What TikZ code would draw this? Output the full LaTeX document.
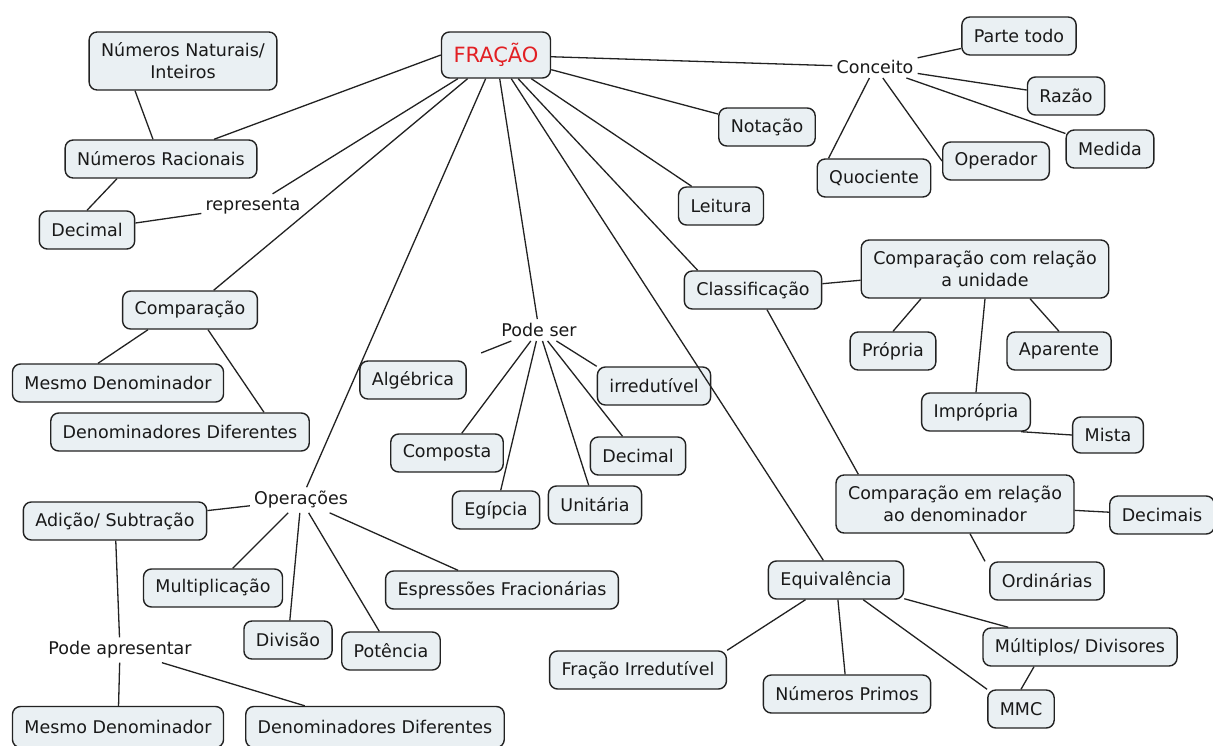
\documentclass[tikz,border=0pt]{standalone}
\usepackage{fontspec}
\setmainfont{DejaVu Sans}
\definecolor{caixafundo}{RGB}{234,240,243}
\definecolor{traco}{RGB}{34,34,34}
\definecolor{vermelho}{RGB}{226,32,36}
\tikzset{
  caixa/.style={draw=traco, line width=1.4pt, fill=caixafundo, rounded corners=8pt,
    inner xsep=12pt, inner ysep=5pt, minimum height=38pt, text=black!90, align=center},
  rotulo/.style={inner sep=4pt, text=black!90},
  liga/.style={draw=traco, line width=1.3pt}
}
\begin{document}
\begin{tikzpicture}[x=1pt, y=-1pt, font=\fontsize{17.5}{22}\selectfont]
    \path[use as bounding box, fill=white] (0,0) rectangle (1213,745);

    \node[caixa, text=vermelho, minimum height=46pt, font=\fontsize{21}{25}\selectfont] (fracao) at (496,55) {FRAÇÃO};

    \node[caixa, minimum height=58pt] (naturais) at (183,61) {Números Naturais/\\Inteiros};
    \node[caixa] (racionais) at (161,159) {Números Racionais};
    \node[caixa] (decimalA) at (87,230) {Decimal};
    \node[rotulo] (representa) at (253,206) {representa};

    \node[rotulo] (conceito) at (875,67) {Conceito};
    \node[caixa] (partetodo) at (1019,36) {Parte todo};
    \node[caixa] (razao) at (1066,96) {Razão};
    \node[caixa] (medida) at (1110,149) {Medida};
    \node[caixa] (operador) at (996,161) {Operador};
    \node[caixa] (quociente) at (874,178) {Quociente};
    \node[caixa] (notacao) at (767,127) {Notação};
    \node[caixa] (leitura) at (721,206) {Leitura};

    \node[caixa] (classificacao) at (753,290) {Classificação};
    \node[caixa, minimum height=58pt] (unidade) at (985,269) {Comparação com relação\\a unidade};
    \node[caixa] (propria) at (893,351) {Própria};
    \node[caixa] (aparente) at (1059,351) {Aparente};
    \node[caixa] (impropria) at (976,412) {Imprópria};
    \node[caixa, minimum height=36pt] (mista) at (1108,435) {Mista};
    \node[caixa, minimum height=58pt] (denominador) at (955,504) {Comparação em relação\\ao denominador};
    \node[caixa] (decimais) at (1162,515) {Decimais};
    \node[caixa] (ordinarias) at (1047,581) {Ordinárias};

    \node[caixa] (equivalencia) at (836,580) {Equivalência};
    \node[caixa] (multiplos) at (1080,647) {Múltiplos/ Divisores};
    \node[caixa] (mmc) at (1021,709) {MMC};
    \node[caixa] (primos) at (847,694) {Números Primos};
    \node[caixa] (fracaoirred) at (638,670) {Fração Irredutível};

    \node[caixa] (comparacao) at (190,310) {Comparação};
    \node[caixa] (mesmoA) at (118,383) {Mesmo Denominador};
    \node[caixa] (diferentesA) at (180,432) {Denominadores Diferentes};

    \node[rotulo] (podeser) at (539,330) {Pode ser};
    \node[caixa] (algebrica) at (413,380) {Algébrica};
    \node[caixa] (irredutivel) at (654,386) {irredutível};
    \node[caixa] (composta) at (447,453) {Composta};
    \node[caixa] (decimalB) at (638,456) {Decimal};
    \node[caixa] (egipcia) at (496,510) {Egípcia};
    \node[caixa] (unitaria) at (595,505) {Unitária};

    \node[rotulo] (operacoes) at (301,500) {Operações};
    \node[caixa] (adicao) at (115,521) {Adição/ Subtração};
    \node[caixa] (multiplicacao) at (213,588) {Multiplicação};
    \node[caixa] (divisao) at (288,640) {Divisão};
    \node[caixa] (potencia) at (391,651) {Potência};
    \node[caixa] (expressoes) at (502,590) {Espressões Fracionárias};
    \node[rotulo] (podeapresentar) at (120,650) {Pode apresentar};
    \node[caixa, minimum height=41pt] (mesmoB) at (118,727) {Mesmo Denominador};
    \node[caixa, minimum height=41pt] (diferentesB) at (375,727) {Denominadores Diferentes};

    \draw[liga] (fracao.west) -- (racionais);
    \draw[liga] (fracao) -- (representa);
    \draw[liga] (fracao) -- (comparacao);
    \draw[liga] (fracao) -- (operacoes);
    \draw[liga] (fracao) -- (podeser);
    \draw[liga] (fracao) -- (equivalencia);
    \draw[liga] (fracao) -- ([xshift=14pt]classificacao.north west);
    \draw[liga] (fracao) -- (leitura);
    \draw[liga] (fracao) -- (notacao);
    \draw[liga] (fracao) -- (conceito);

    \draw[liga] ([xshift=-48pt]naturais.south) -- ([xshift=-8pt]racionais.north);
    \draw[liga] ([xshift=-44pt]racionais.south) -- (decimalA.north);
    \draw[liga] (representa) -- (decimalA);

    \draw[liga] (conceito) -- (partetodo);
    \draw[liga] (conceito) -- (razao);
    \draw[liga] (conceito) -- (medida);
    \draw[liga] (conceito) -- (operador.west);
    \draw[liga] (conceito) -- ([xshift=12pt]quociente.north west);

    \draw[liga] (classificacao) -- (unidade);
    \draw[liga] ([xshift=14pt]classificacao.south) -- ([xshift=23pt]denominador.north west);
    \draw[liga] ([xshift=-64pt]unidade.south) -- (propria.north);
    \draw[liga] ([xshift=45pt]unidade.south) -- (aparente.north);
    \draw[liga] (unidade.south) -- (impropria.north);
    \draw[liga] ([xshift=-10pt]impropria.south east) -- (mista.west);
    \draw[liga] (denominador) -- (decimais);
    \draw[liga] ([xshift=15pt]denominador.south) -- ([xshift=-62pt]ordinarias.north);

    \draw[liga] (equivalencia) -- (fracaoirred.north east);
    \draw[liga] (equivalencia) -- (primos);
    \draw[liga] (equivalencia) -- (mmc.north west);
    \draw[liga] (equivalencia) -- (multiplos);
    \draw[liga] ([xshift=-46pt]multiplos.south) -- (mmc.north);

    \draw[liga] ([xshift=-42pt]comparacao.south) -- ([xshift=-20pt]mesmoA.north);
    \draw[liga] ([xshift=18pt]comparacao.south) -- ([xshift=84pt]diferentesA.north);

    \draw[liga, shorten >=20pt] (podeser) -- (algebrica);
    \draw[liga] (podeser) -- (composta);
    \draw[liga] (podeser) -- (egipcia);
    \draw[liga] (podeser) -- (unitaria);
    \draw[liga] (podeser) -- (decimalB);
    \draw[liga] (podeser) -- (irredutivel.north west);

    \draw[liga] (operacoes) -- (adicao);
    \draw[liga] (operacoes) -- (multiplicacao);
    \draw[liga] (operacoes) -- (divisao);
    \draw[liga] (operacoes) -- (potencia);
    \draw[liga] (operacoes) -- (expressoes);
    \draw[liga] (adicao) -- (podeapresentar);
    \draw[liga] (podeapresentar) -- (mesmoB);
    \draw[liga] (podeapresentar) -- (diferentesB);
\end{tikzpicture}
\end{document}
